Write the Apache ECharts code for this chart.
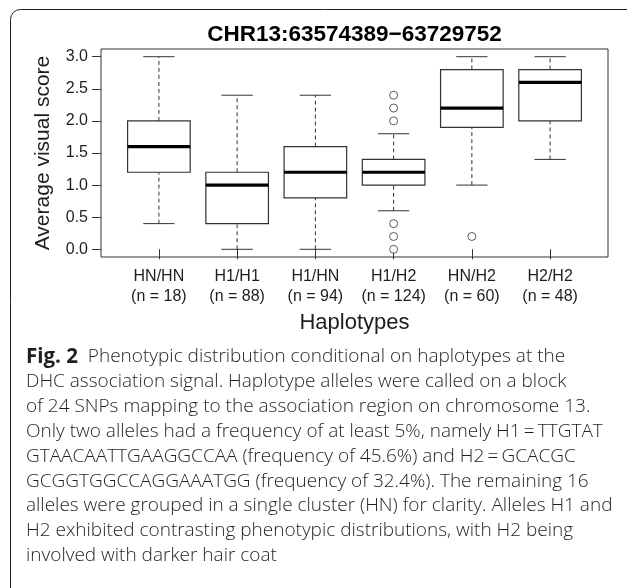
<!DOCTYPE html>
<html>
<head>
<meta charset="utf-8">
<script src="https://cdn.jsdelivr.net/npm/echarts@6/dist/echarts.min.js"></script>
<style>
    html, body { margin: 0; padding: 0; background: #fff; }
    #chart { width: 627px; height: 588px; }
</style>
</head>
<body>
<div id="chart"></div>
<script>
    // haplotype groups
    var haplotypes = ['HN/HN', 'H1/H1', 'H1/HN', 'H1/H2', 'HN/H2', 'H2/H2'];
    var sampleSizes = [18, 88, 94, 124, 60, 48];
    var whiskerLow = [0.4, 0.0, 0.0, 0.6, 1.0, 1.4];
    var quartile1 = [1.2, 0.4, 0.8, 1.0, 1.9, 2.0];
    var medians = [1.6, 1.0, 1.2, 1.2, 2.2, 2.6];
    var quartile3 = [2.0, 1.2, 1.6, 1.4, 2.8, 2.8];
    var whiskerHigh = [3.0, 2.4, 2.4, 1.8, 3.0, 3.0];
    // outliers: group number (1..6) and score
    var outlierGroup = [4, 4, 4, 4, 4, 4, 5];
    var outlierScore = [2.4, 2.2, 2.0, 0.4, 0.2, 0.0, 0.2];
    var yTicks = [0, 0.5, 1, 1.5, 2, 2.5, 3];
    var xTicks = [1, 2, 3, 4, 5, 6];

    var captionLines = [
        'DHC association signal. Haplotype alleles were called on a block',
        'of 24 SNPs mapping to the association region on chromosome 13.',
        'Only two alleles had a frequency of at least 5%, namely H1\u2009=\u2009TTGTAT',
        'GTAACAATTGAAGGCCAA (frequency of 45.6%) and H2\u2009=\u2009GCACGC',
        'GCGGTGGCCAGGAAATGG (frequency of 32.4%). The remaining 16',
        'alleles were grouped in a single cluster (HN) for clarity. Alleles H1 and',
        'H2 exhibited contrasting phenotypic distributions, with H2 being',
        'involved with darker hair coat'
    ];

    var boxData = haplotypes.map(function (h, i) {
        return [i + 1, whiskerLow[i], quartile1[i], medians[i], quartile3[i], whiskerHigh[i]];
    });
    var outlierData = outlierGroup.map(function (g, i) { return [g, outlierScore[i]]; });

    var ink = '#1e1e1e';
    var line = '#333';
    var capFont = '300 19px "Open Sans", sans-serif';

    function renderBox(params, api) {
        var x = api.value(0);
        var lo = api.coord([x, api.value(1)]);
        var q1 = api.coord([x, api.value(2)]);
        var md = api.coord([x, api.value(3)]);
        var q3 = api.coord([x, api.value(4)]);
        var hi = api.coord([x, api.value(5)]);
        var boxW = api.size([0.8, 0])[0];
        var capW = api.size([0.4, 0])[0];
        var cx = lo[0];
        var dash = {stroke: line, lineWidth: 1, lineDash: [4, 3], fill: null};
        var solid = {stroke: line, lineWidth: 1, fill: null};
        return {
            type: 'group',
            children: [
                {type: 'line', shape: {x1: cx, y1: lo[1], x2: cx, y2: q1[1]}, style: dash},
                {type: 'line', shape: {x1: cx, y1: q3[1], x2: cx, y2: hi[1]}, style: dash},
                {type: 'line', shape: {x1: cx - capW / 2, y1: lo[1], x2: cx + capW / 2, y2: lo[1]}, style: solid},
                {type: 'line', shape: {x1: cx - capW / 2, y1: hi[1], x2: cx + capW / 2, y2: hi[1]}, style: solid},
                {type: 'rect', shape: {x: cx - boxW / 2, y: q3[1], width: boxW, height: q1[1] - q3[1]},
                    style: {stroke: line, lineWidth: 1.2, fill: '#fff'}},
                {type: 'line', shape: {x1: cx - boxW / 2, y1: md[1], x2: cx + boxW / 2, y2: md[1]},
                    style: {stroke: '#000', lineWidth: 3.2}}
            ]
        };
    }

    var frameStyle = {stroke: '#222', lineWidth: 1, fill: null};
    var graphics = [
        {type: 'polyline', shape: {points: [[10.5, 588], [10.5, 19.5]]}, style: frameStyle},
        {type: 'polyline', shape: {points: [[20.5, 9.5], [627, 9.5]]}, style: frameStyle},
        {type: 'arc', shape: {cx: 20.5, cy: 19.5, r: 10, startAngle: Math.PI, endAngle: Math.PI * 1.5}, style: frameStyle},
        {type: 'text', x: 354.5, y: 35,
            style: {text: 'CHR13:63574389\u221263729752', fill: '#000', textAlign: 'center', textVerticalAlign: 'middle',
                font: 'bold 22.5px "Liberation Sans", Arial, sans-serif'}},
        {type: 'text', x: 26, y: 357,
            style: {text: '{b|Fig. 2}  Phenotypic distribution conditional on haplotypes at the',
                textVerticalAlign: 'middle', fill: '#231f20', font: capFont,
                rich: {b: {fontWeight: 'bold', fontSize: 20.5, fontFamily: 'Open Sans', fill: '#231f20'}}}}
    ];
    captionLines.forEach(function (t, i) {
        graphics.push({type: 'text', x: 26, y: 382 + i * 24.8,
            style: {text: t, textVerticalAlign: 'middle', fill: '#231f20', font: capFont}});
    });

    var chart = echarts.init(document.getElementById('chart'));
    var option = {
        animation: false,
        backgroundColor: '#fff',
        grid: {left: 101, right: 19, top: 49, bottom: 331, show: true, borderColor: line, borderWidth: 1},
        xAxis: {
            type: 'value', min: 0.26, max: 6.74,
            name: 'Haplotypes', nameLocation: 'middle', nameGap: 55,
            nameTextStyle: {fontFamily: 'Liberation Sans', fontSize: 22, color: ink},
            axisLine: {show: false},
            splitLine: {show: false},
            axisTick: {show: true, length: 10, inside: false, lineStyle: {color: line}, customValues: xTicks},
            axisLabel: {
                customValues: xTicks, margin: 10, lineHeight: 20,
                fontFamily: 'Liberation Sans', fontSize: 16, color: ink,
                formatter: function (v) {
                    var i = Math.round(v) - 1;
                    return haplotypes[i] + '\n(n = ' + sampleSizes[i] + ')';
                }
            }
        },
        yAxis: {
            type: 'value', min: -0.12, max: 3.12,
            name: 'Average visual score', nameLocation: 'middle', nameGap: 47, nameRotate: 90,
            nameTextStyle: {fontFamily: 'Liberation Sans', fontSize: 21, color: ink},
            axisLine: {show: false},
            splitLine: {show: false},
            axisTick: {show: true, length: 9, lineStyle: {color: line}, customValues: yTicks},
            axisLabel: {
                customValues: yTicks, margin: 13,
                fontFamily: 'Liberation Sans', fontSize: 16, color: ink,
                formatter: function (v) { return v.toFixed(1); }
            }
        },
        series: [
            {type: 'custom', renderItem: renderBox, data: boxData, encode: {x: 0, y: [1, 2, 3, 4, 5]}, clip: false},
            {type: 'scatter', data: outlierData, symbol: 'circle', symbolSize: 8,
                itemStyle: {color: '#fff', borderColor: line, borderWidth: 1}}
        ],
        graphic: graphics
    };
    chart.setOption(option);
</script>
</body>
</html>
